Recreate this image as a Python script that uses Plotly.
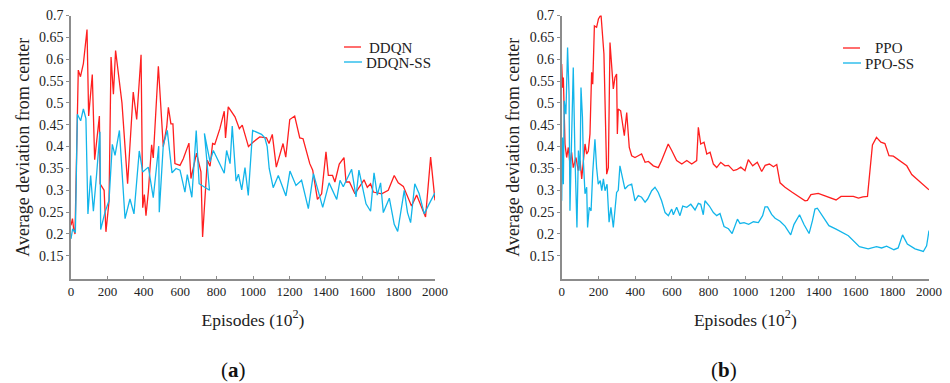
import plotly.graph_objects as go

# ---------------- data ----------------
episode_ticks = [0, 200, 400, 600, 800, 1000, 1200, 1400, 1600, 1800, 2000]
dev_ticks = [0.15, 0.2, 0.25, 0.3, 0.35, 0.4, 0.45, 0.5, 0.55, 0.6, 0.65, 0.7]
dev_tick_text = ["0.15", "0.2", "0.25", "0.3", "0.35", "0.4", "0.45", "0.5", "0.55", "0.6", "0.65", "0.7"]

ddqn_x = [0, 8, 15, 22, 40, 52, 68, 88, 97, 117, 130, 156, 160, 182, 192, 209, 220, 233, 245, 280,
          311, 342, 361, 385, 394, 403, 412, 425, 443, 452, 480, 507, 526, 535, 549, 560, 571, 599, 617, 648,
          659, 690, 714, 723, 749, 764, 778, 790, 818, 842, 849, 864, 901, 925, 941, 955, 975, 1000, 1037, 1074,
          1088, 1106, 1128, 1165, 1180, 1202, 1229, 1257, 1275, 1312, 1328, 1354, 1377, 1401, 1414, 1437, 1450, 1474, 1500, 1511,
          1530, 1560, 1588, 1610, 1628, 1646, 1661, 1707, 1743, 1776, 1798, 1826, 1871, 1899, 1948, 1976, 2000]
ddqn_y = [0.22, 0.235, 0.21, 0.2, 0.575, 0.56, 0.59, 0.668, 0.47, 0.565, 0.37, 0.47, 0.315, 0.3, 0.205, 0.275, 0.605, 0.52, 0.62, 0.5,
          0.315, 0.525, 0.462, 0.61, 0.26, 0.29, 0.242, 0.297, 0.404, 0.374, 0.584, 0.4, 0.445, 0.49, 0.452, 0.452, 0.361, 0.357, 0.372, 0.408,
          0.327, 0.385, 0.342, 0.193, 0.369, 0.355, 0.407, 0.405, 0.441, 0.481, 0.42, 0.491, 0.468, 0.441, 0.449, 0.43, 0.4, 0.41, 0.422, 0.42,
          0.407, 0.428, 0.353, 0.407, 0.376, 0.462, 0.47, 0.42, 0.418, 0.361, 0.346, 0.279, 0.292, 0.388, 0.334, 0.334, 0.319, 0.36, 0.375, 0.319,
          0.319, 0.292, 0.311, 0.324, 0.307, 0.315, 0.296, 0.292, 0.3, 0.334, 0.317, 0.309, 0.264, 0.289, 0.239, 0.376, 0.277]

ddqn_ss_x = [0, 9, 24, 35, 53, 68, 82, 93, 108, 123, 141, 159, 163, 187, 209, 227, 242, 266, 297, 324,
             346, 375, 394, 425, 452, 482, 485, 507, 529, 555, 577, 599, 626, 639, 664, 688, 704, 761, 733, 764,
             782, 842, 855, 874, 886, 907, 920, 938, 956, 974, 998, 1047, 1065, 1078, 1089, 1111, 1139, 1160, 1181, 1203,
             1236, 1267, 1304, 1332, 1359, 1383, 1418, 1460, 1478, 1496, 1542, 1566, 1582, 1621, 1646, 1665, 1683, 1701, 1716, 1749,
             1776, 1795, 1831, 1849, 1866, 1889, 1913, 1941, 1968, 2000]
ddqn_ss_y = [0.189, 0.212, 0.203, 0.474, 0.459, 0.486, 0.464, 0.246, 0.334, 0.252, 0.338, 0.434, 0.21, 0.25, 0.277, 0.405, 0.38, 0.437, 0.235, 0.28,
             0.246, 0.39, 0.342, 0.353, 0.283, 0.401, 0.25, 0.403, 0.437, 0.34, 0.35, 0.346, 0.296, 0.336, 0.284, 0.437, 0.315, 0.3, 0.43, 0.365,
             0.391, 0.339, 0.391, 0.361, 0.447, 0.321, 0.337, 0.301, 0.352, 0.288, 0.437, 0.428, 0.42, 0.4, 0.35, 0.306, 0.334, 0.31, 0.287, 0.344,
             0.311, 0.323, 0.258, 0.338, 0.296, 0.261, 0.317, 0.279, 0.323, 0.308, 0.348, 0.285, 0.346, 0.269, 0.252, 0.34, 0.289, 0.317, 0.249, 0.282,
             0.222, 0.206, 0.3, 0.249, 0.226, 0.315, 0.292, 0.246, 0.269, 0.294]

ppo_x = [0, 5, 9, 18, 27, 36, 45, 54, 63, 78, 90, 100, 109, 118, 127, 136, 145, 154, 163, 169,
         178, 190, 200, 214, 223, 230, 245, 254, 263, 272, 281, 290, 299, 303, 308, 321, 332, 341, 354, 368,
         381, 399, 417, 435, 454, 472, 499, 526, 544, 568, 580, 599, 626, 654, 681, 708, 735, 744, 757, 775,
         790, 808, 826, 844, 866, 889, 908, 935, 953, 975, 998, 1016, 1040, 1065, 1089, 1108, 1131, 1153, 1171, 1189,
         1216, 1253, 1295, 1325, 1338, 1357, 1397, 1443, 1494, 1521, 1588, 1616, 1640, 1665, 1692, 1714, 1738, 1760, 1782, 1806,
         1879, 1906, 2000]
ppo_y = [0.589, 0.535, 0.558, 0.406, 0.375, 0.398, 0.36, 0.387, 0.352, 0.375, 0.345, 0.368, 0.326, 0.375, 0.406, 0.383, 0.39, 0.429, 0.57, 0.543,
         0.676, 0.673, 0.692, 0.702, 0.661, 0.612, 0.337, 0.352, 0.638, 0.581, 0.532, 0.558, 0.566, 0.429, 0.486, 0.482, 0.444, 0.425, 0.478, 0.398,
         0.379, 0.375, 0.379, 0.383, 0.364, 0.366, 0.356, 0.352, 0.368, 0.391, 0.406, 0.391, 0.368, 0.36, 0.368, 0.36, 0.368, 0.444, 0.406, 0.41,
         0.383, 0.387, 0.36, 0.352, 0.364, 0.356, 0.357, 0.345, 0.347, 0.353, 0.345, 0.37, 0.356, 0.364, 0.343, 0.357, 0.36, 0.354, 0.359, 0.317,
         0.307, 0.296, 0.284, 0.276, 0.277, 0.29, 0.293, 0.286, 0.278, 0.286, 0.286, 0.282, 0.285, 0.286, 0.404, 0.421, 0.41, 0.407, 0.379, 0.378,
         0.356, 0.336, 0.301]

ppo_ss_x = [0, 4, 9, 14, 23, 32, 40, 45, 54, 63, 72, 83, 91, 100, 105, 113, 118, 127, 136, 141,
            150, 160, 169, 181, 190, 199, 210, 218, 227, 236, 247, 258, 268, 281, 299, 308, 317, 326, 344, 362,
            381, 399, 417, 435, 454, 468, 490, 508, 526, 544, 563, 581, 599, 608, 626, 644, 659, 681, 703, 726,
            744, 757, 771, 780, 804, 826, 844, 862, 884, 908, 928, 957, 971, 993, 1018, 1044, 1071, 1094, 1107, 1121,
            1143, 1162, 1189, 1216, 1247, 1265, 1295, 1320, 1347, 1365, 1379, 1392, 1424, 1455, 1494, 1561, 1621, 1669, 1714, 1742,
            1769, 1809, 1832, 1856, 1882, 1924, 1969, 1987, 2000]
ppo_ss_y = [0.276, 0.421, 0.314, 0.505, 0.474, 0.627, 0.52, 0.253, 0.421, 0.581, 0.383, 0.215, 0.391, 0.345, 0.535, 0.467, 0.368, 0.292, 0.307, 0.215,
            0.261, 0.253, 0.341, 0.417, 0.352, 0.314, 0.322, 0.299, 0.326, 0.299, 0.314, 0.227, 0.261, 0.215, 0.295, 0.3, 0.356, 0.337, 0.303, 0.311,
            0.314, 0.276, 0.288, 0.284, 0.273, 0.28, 0.299, 0.307, 0.295, 0.276, 0.249, 0.242, 0.257, 0.244, 0.261, 0.242, 0.264, 0.261, 0.268, 0.255,
            0.27, 0.268, 0.244, 0.276, 0.264, 0.249, 0.242, 0.247, 0.217, 0.212, 0.201, 0.234, 0.224, 0.226, 0.222, 0.228, 0.226, 0.242, 0.262, 0.262,
            0.245, 0.236, 0.229, 0.218, 0.198, 0.222, 0.244, 0.221, 0.201, 0.23, 0.257, 0.259, 0.237, 0.219, 0.211, 0.196, 0.171, 0.166, 0.171, 0.168,
            0.172, 0.164, 0.168, 0.198, 0.177, 0.166, 0.16, 0.173, 0.208]

# ---------------- styling ----------------
W, H = 950, 383
RED = "#ff1f1f"
BLUE = "#12b5ea"
AXIS = "#8c8c8c"
FONT = "Liberation Serif"

def px(x):
    return x / W

def py(y):
    return 1 - y / H

fig = go.Figure()
fig.add_trace(go.Scatter(x=ddqn_x, y=ddqn_y, mode="lines", name="DDQN",
                         line=dict(color=RED, width=1.3), xaxis="x", yaxis="y", showlegend=False))
fig.add_trace(go.Scatter(x=ddqn_ss_x, y=ddqn_ss_y, mode="lines", name="DDQN-SS",
                         line=dict(color=BLUE, width=1.3), xaxis="x", yaxis="y", showlegend=False))
fig.add_trace(go.Scatter(x=ppo_x, y=ppo_y, mode="lines", name="PPO",
                         line=dict(color=RED, width=1.3), xaxis="x2", yaxis="y2", showlegend=False))
fig.add_trace(go.Scatter(x=ppo_ss_x, y=ppo_ss_y, mode="lines", name="PPO-SS",
                         line=dict(color=BLUE, width=1.3), xaxis="x2", yaxis="y2", showlegend=False))

ydom = [py(279), py(15.5)]
common_x = dict(range=[0, 2000], tickvals=episode_ticks, ticks="inside", ticklen=3, tickcolor=AXIS,
                showline=True, linecolor=AXIS, linewidth=1.5, showgrid=False, zeroline=False, automargin=False,
                tickfont=dict(family=FONT, size=13, color="#222"),
                title=dict(text="Episodes (10<sup>2</sup>)", font=dict(family=FONT, size=17.5, color="#222"), standoff=15))
common_y = dict(range=[0.097, 0.7], tickvals=dev_ticks, ticktext=dev_tick_text, ticks="outside", ticklen=3,
                tickcolor=AXIS, showline=True, linecolor=AXIS, linewidth=1.5, showgrid=False, zeroline=False,
                automargin=False,
                tickfont=dict(family=FONT, size=14, color="#222"), domain=ydom,
                title=dict(text="Average deviation from center", font=dict(family=FONT, size=18, color="#222"), standoff=5))

fig.update_layout(
    width=W, height=H, autosize=False,
    margin=dict(l=0, r=0, t=0, b=0, autoexpand=False),
    paper_bgcolor="white", plot_bgcolor="white",
    xaxis=dict(domain=[px(71), px(435)], anchor="y", **common_x),
    yaxis=dict(anchor="x", **common_y),
    xaxis2=dict(domain=[px(561.7), px(929)], anchor="y2", **common_x),
    yaxis2=dict(anchor="x2", **common_y),
)

# legends (drawn as keys + labels)
legend_items = [
    (344, 361, 47, RED, "DDQN", 368, "left"),
    (344, 362, 62, BLUE, "DDQN-SS", 365, "left"),
    (843, 860, 48, RED, "PPO", 889, "center"),
    (843, 861, 63, BLUE, "PPO-SS", 889, "center"),
]
for x0, x1, yy, col, label, tx, anchor in legend_items:
    fig.add_shape(type="line", xref="paper", yref="paper", x0=px(x0), x1=px(x1), y0=py(yy), y1=py(yy),
                  line=dict(color=col, width=1.3))
    fig.add_annotation(xref="paper", yref="paper", x=px(tx), y=py(yy), text=label, showarrow=False,
                       xanchor=anchor, yanchor="middle", height=15, borderpad=0,
                       font=dict(family=FONT, size=15, color="#222"))

for label, cx in [("(<b>a</b>)", 233), ("(<b>b</b>)", 724)]:
    fig.add_annotation(xref="paper", yref="paper", x=px(cx), y=py(370), text=label, showarrow=False,
                       xanchor="center", yanchor="middle", font=dict(family=FONT, size=21, color="#111"))

fig.write_html("out.html", config={"displayModeBar": False},
               post_script="document.body.style.margin='0';document.body.style.overflow='hidden';")
